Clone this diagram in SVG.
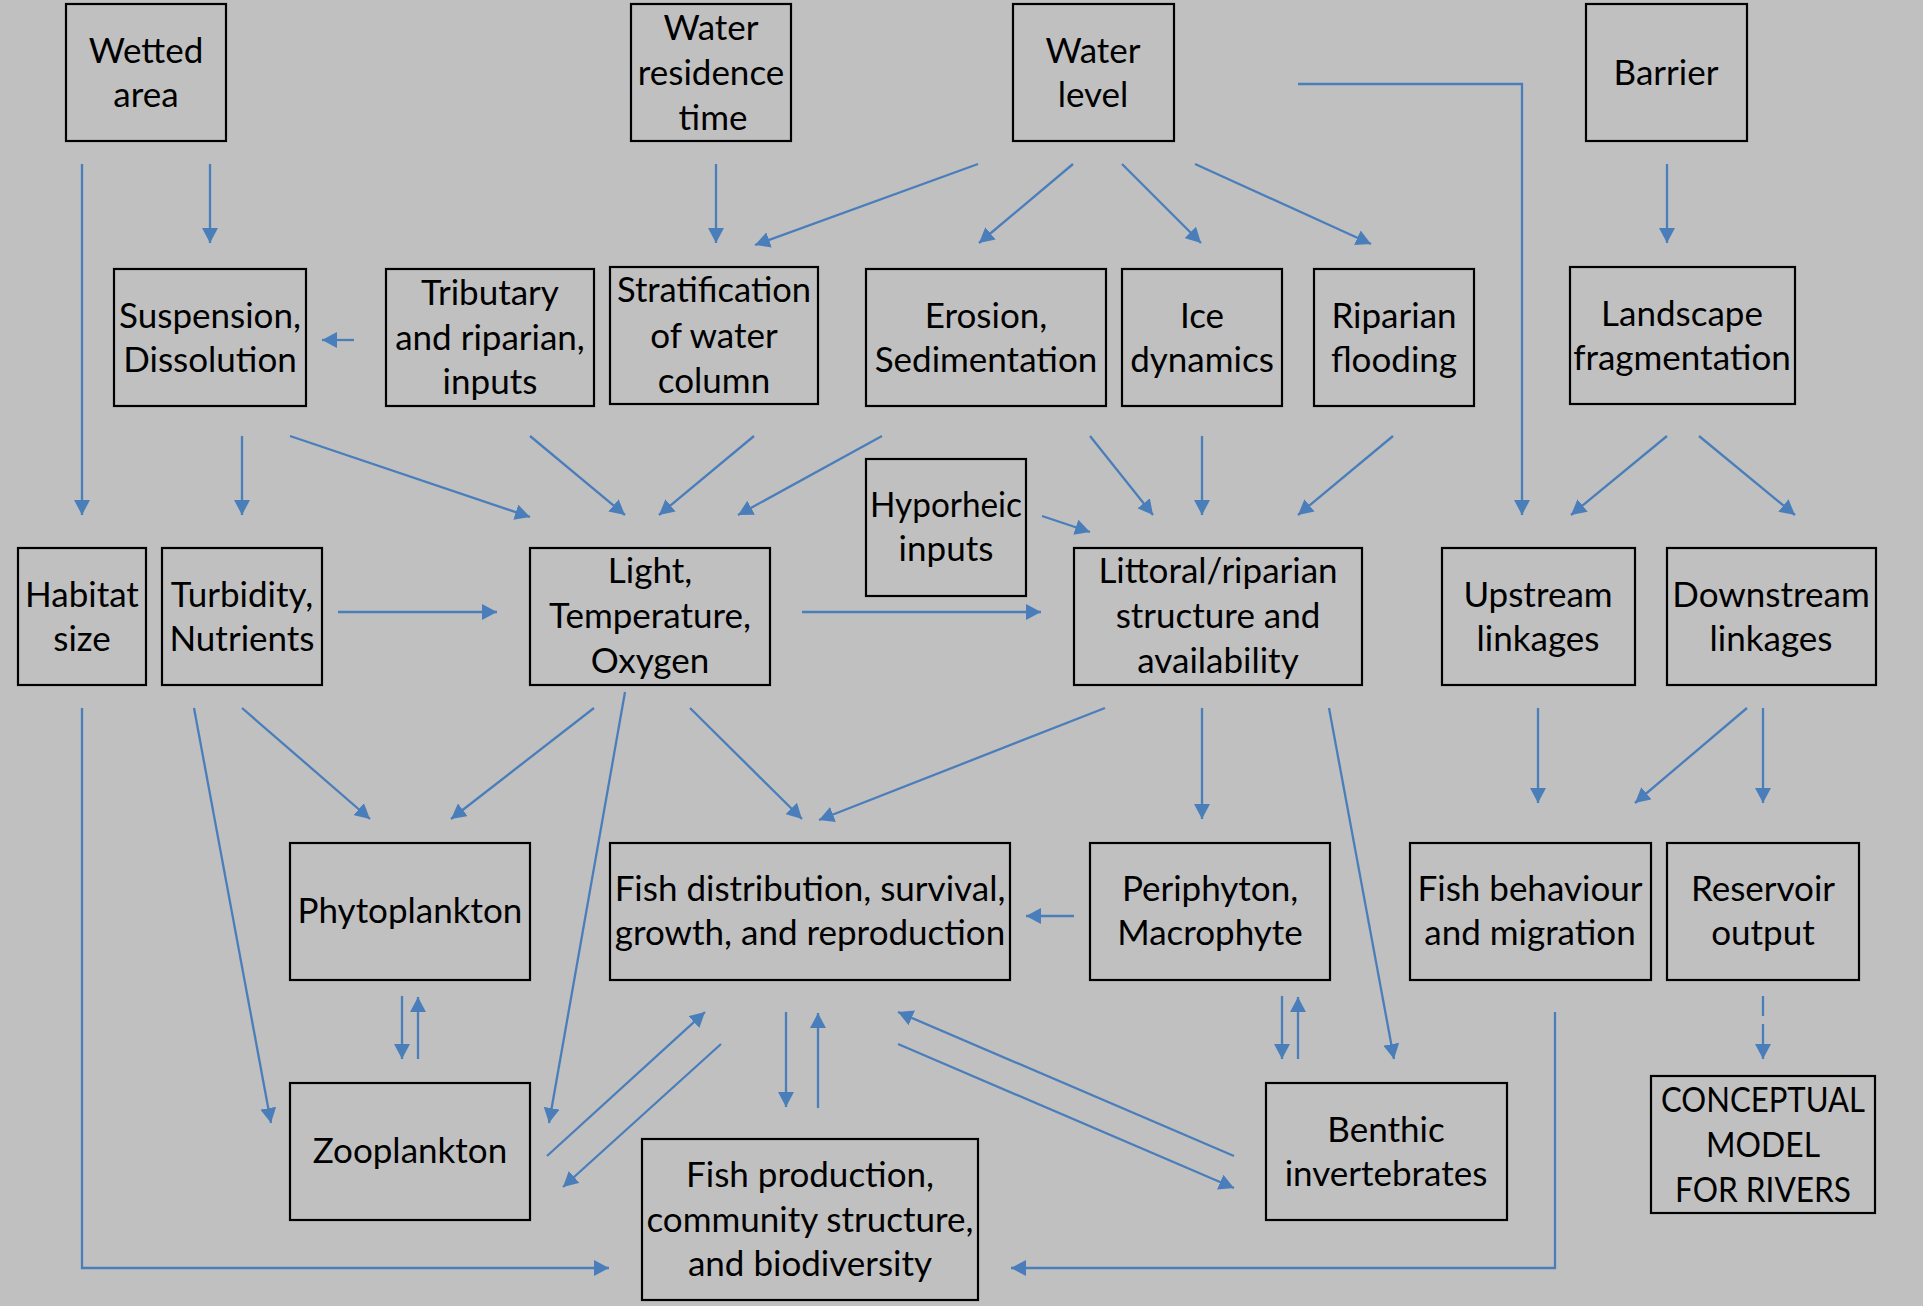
<svg xmlns="http://www.w3.org/2000/svg" width="1923" height="1306" viewBox="0 0 1923 1306">
<style>
.b{fill:none;stroke:#000;stroke-width:2.2}
.t{font-family:Lato,"Liberation Sans",sans-serif;font-size:35px;fill:#000;text-anchor:middle}
.c{fill:none;stroke:#4a7ebb;stroke-width:2.3}
.d{stroke-dasharray:20 8}
</style>
<defs>
<marker id="a" markerUnits="userSpaceOnUse" markerWidth="16" markerHeight="16" refX="15" refY="8" orient="auto">
<path d="M0,0 L15,8 L0,16 z" fill="#4a7ebb"/>
</marker>
</defs>
<rect width="1923" height="1306" fill="#c0c0c0"/>
<g id="connectors" marker-end="url(#a)">
<path class="c" d="M82,164 L82,515"/>
<path class="c" d="M210,164 L210,243"/>
<path class="c" d="M354,340 L322,340"/>
<path class="c" d="M716,164 L716,243"/>
<path class="c" d="M978,164 L755,245"/>
<path class="c" d="M1073,164 L979,243"/>
<path class="c" d="M1122,164 L1201,243"/>
<path class="c" d="M1195,164 L1371,244"/>
<path class="c" d="M1298,84 L1522,84 L1522,515"/>
<path class="c" d="M1667,164 L1667,243"/>
<path class="c" d="M242,436 L242,515"/>
<path class="c" d="M290,436 L530,517"/>
<path class="c" d="M530,436 L625,515"/>
<path class="c" d="M754,436 L659,515"/>
<path class="c" d="M882,436 L738,515"/>
<path class="c" d="M1090,436 L1153,515"/>
<path class="c" d="M1202,436 L1202,515"/>
<path class="c" d="M1393,436 L1298,515"/>
<path class="c" d="M1042,516 L1090,532"/>
<path class="c" d="M1667,436 L1571,515"/>
<path class="c" d="M1699,436 L1795,515"/>
<path class="c" d="M338,612 L497,612"/>
<path class="c" d="M802,612 L1041,612"/>
<path class="c" d="M82,708 L82,1268 L609,1268"/>
<path class="c" d="M194,708 L271,1123"/>
<path class="c" d="M242,708 L370,819"/>
<path class="c" d="M594,708 L451,819"/>
<path class="c" d="M625,692 L549,1123"/>
<path class="c" d="M690,708 L802,819"/>
<path class="c" d="M1105,708 L819,820"/>
<path class="c" d="M1202,708 L1202,819"/>
<path class="c" d="M1329,708 L1394,1059"/>
<path class="c" d="M1538,708 L1538,803"/>
<path class="c" d="M1747,708 L1635,803"/>
<path class="c" d="M1763,708 L1763,803"/>
<path class="c" d="M1074,916 L1026,916"/>
<path class="c" d="M402,996 L402,1059"/>
<path class="c" d="M418,1059 L418,997"/>
<path class="c" d="M547,1156 L705,1012"/>
<path class="c" d="M721,1044 L563,1187"/>
<path class="c" d="M786,1012 L786,1107"/>
<path class="c" d="M818,1108 L818,1013"/>
<path class="c" d="M1234,1156 L898,1012"/>
<path class="c" d="M898,1044 L1234,1188"/>
<path class="c" d="M1282,996 L1282,1059"/>
<path class="c" d="M1298,1059 L1298,997"/>
<path class="c" d="M1555,1012 L1555,1268 L1011,1268"/>
<path class="c d" d="M1763,996 L1763,1059"/>
</g>
<g id="wetted"><rect class="b" x="66" y="4" width="160" height="137"/><text class="t" x="146" y="63">Wetted</text><text class="t" x="146" y="107">area</text></g>
<g id="residence"><rect class="b" x="631" y="4" width="160" height="137"/><text class="t" x="711" y="40">Water</text><text class="t" x="711" y="85">residence</text><text class="t" x="713" y="130">time</text></g>
<g id="waterlevel"><rect class="b" x="1013" y="4" width="161" height="137"/><text class="t" x="1093" y="63">Water</text><text class="t" x="1093" y="107">level</text></g>
<g id="barrier"><rect class="b" x="1586" y="4" width="161" height="137"/><text class="t" x="1666" y="85">Barrier</text></g>
<g id="suspension"><rect class="b" x="114" y="269" width="192" height="137"/><text class="t" x="210" y="328">Suspension,</text><text class="t" x="210" y="372">Dissolution</text></g>
<g id="tributary"><rect class="b" x="386" y="269" width="208" height="137"/><text class="t" x="490" y="305">Tributary</text><text class="t" x="490" y="350">and riparian,</text><text class="t" x="490" y="394">inputs</text></g>
<g id="stratification"><rect class="b" x="610" y="267" width="208" height="137"/><text class="t" x="714" y="302" textLength="194" lengthAdjust="spacingAndGlyphs">Stratification</text><text class="t" x="714" y="348">of water</text><text class="t" x="714" y="393">column</text></g>
<g id="erosion"><rect class="b" x="866" y="269" width="240" height="137"/><text class="t" x="986" y="328">Erosion,</text><text class="t" x="986" y="372">Sedimentation</text></g>
<g id="ice"><rect class="b" x="1122" y="269" width="160" height="137"/><text class="t" x="1202" y="328">Ice</text><text class="t" x="1202" y="372">dynamics</text></g>
<g id="riparian"><rect class="b" x="1314" y="269" width="160" height="137"/><text class="t" x="1394" y="328">Riparian</text><text class="t" x="1394" y="372">flooding</text></g>
<g id="landscape"><rect class="b" x="1570" y="267" width="225" height="137"/><text class="t" x="1682" y="326">Landscape</text><text class="t" x="1682" y="370">fragmentation</text></g>
<g id="hyporheic"><rect class="b" x="866" y="459" width="160" height="137"/><text class="t" x="946" y="517" textLength="152" lengthAdjust="spacingAndGlyphs">Hyporheic</text><text class="t" x="946" y="561">inputs</text></g>
<g id="habitat"><rect class="b" x="18" y="548" width="128" height="137"/><text class="t" x="82" y="607">Habitat</text><text class="t" x="82" y="651">size</text></g>
<g id="turbidity"><rect class="b" x="162" y="548" width="160" height="137"/><text class="t" x="242" y="607">Turbidity,</text><text class="t" x="242" y="651">Nutrients</text></g>
<g id="light"><rect class="b" x="530" y="548" width="240" height="137"/><text class="t" x="650" y="583">Light,</text><text class="t" x="650" y="628">Temperature,</text><text class="t" x="650" y="673">Oxygen</text></g>
<g id="littoral"><rect class="b" x="1074" y="548" width="288" height="137"/><text class="t" x="1218" y="583">Littoral/riparian</text><text class="t" x="1218" y="628">structure and</text><text class="t" x="1218" y="673">availability</text></g>
<g id="upstream"><rect class="b" x="1442" y="548" width="193" height="137"/><text class="t" x="1538" y="607">Upstream</text><text class="t" x="1538" y="651">linkages</text></g>
<g id="downstream"><rect class="b" x="1667" y="548" width="209" height="137"/><text class="t" x="1771" y="607">Downstream</text><text class="t" x="1771" y="651">linkages</text></g>
<g id="phyto"><rect class="b" x="290" y="843" width="240" height="137"/><text class="t" x="410" y="923">Phytoplankton</text></g>
<g id="fishdist"><rect class="b" x="610" y="843" width="400" height="137"/><text class="t" x="810" y="901">Fish distribution, survival,</text><text class="t" x="810" y="945">growth, and reproduction</text></g>
<g id="periphyton"><rect class="b" x="1090" y="843" width="240" height="137"/><text class="t" x="1210" y="901">Periphyton,</text><text class="t" x="1210" y="945">Macrophyte</text></g>
<g id="fishbeh"><rect class="b" x="1410" y="843" width="241" height="137"/><text class="t" x="1530" y="901">Fish behaviour</text><text class="t" x="1530" y="945">and migration</text></g>
<g id="reservoir"><rect class="b" x="1667" y="843" width="192" height="137"/><text class="t" x="1763" y="901">Reservoir</text><text class="t" x="1763" y="945">output</text></g>
<g id="zoo"><rect class="b" x="290" y="1083" width="240" height="137"/><text class="t" x="410" y="1163">Zooplankton</text></g>
<g id="fishprod"><rect class="b" x="642" y="1139" width="336" height="161"/><text class="t" x="810" y="1187">Fish production,</text><text class="t" x="810" y="1232">community structure,</text><text class="t" x="810" y="1276">and biodiversity</text></g>
<g id="benthic"><rect class="b" x="1266" y="1083" width="241" height="137"/><text class="t" x="1386" y="1142">Benthic</text><text class="t" x="1386" y="1186">invertebrates</text></g>
<g id="conceptual"><rect class="b" x="1651" y="1076" width="224" height="137"/><text class="t" x="1763" y="1112" textLength="204" lengthAdjust="spacingAndGlyphs">CONCEPTUAL</text><text class="t" x="1763" y="1157" textLength="114" lengthAdjust="spacingAndGlyphs">MODEL</text><text class="t" x="1763" y="1202" textLength="176" lengthAdjust="spacingAndGlyphs">FOR RIVERS</text></g>
</svg>
